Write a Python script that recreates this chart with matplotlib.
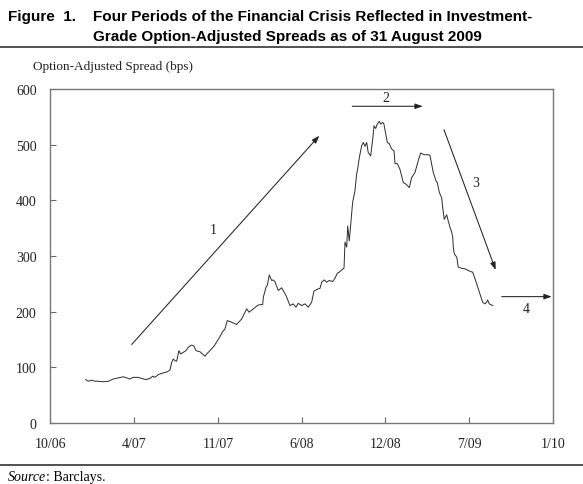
import matplotlib.pyplot as plt
from matplotlib.lines import Line2D

# months since Oct 2006 and option-adjusted spread (bps)
months = [2.73, 2.93, 3.20, 3.45, 3.71, 4.10, 4.49, 4.87, 5.26, 5.65, 5.91, 6.17,
          6.43, 6.81, 7.08, 7.39, 7.72, 7.93, 8.11, 8.37, 8.75, 9.06, 9.27, 9.41,
          9.53, 9.66, 9.79, 9.97, 10.10, 10.31, 10.52, 10.69, 10.96, 11.14, 11.29,
          11.60, 11.99, 12.12, 12.38, 12.69, 13.10, 13.36, 13.54, 13.72, 14.06,
          14.45, 14.84, 15.23, 15.41, 15.74, 16.13, 16.47, 16.52, 16.73, 16.83,
          16.98, 17.17, 17.29, 17.42, 17.68, 17.94, 18.28, 18.59, 18.84, 19.05,
          19.23, 19.50, 19.75, 20.01, 20.27, 20.45, 20.78, 20.92, 21.05, 21.25,
          21.44, 21.64, 21.90, 22.08, 22.26, 22.41, 22.60, 22.78, 22.86, 22.99,
          23.07, 23.19, 23.30, 23.45, 23.63, 23.76, 23.84, 23.97, 24.15, 24.28,
          24.41, 24.54, 24.66, 24.85, 25.01, 25.11, 25.24, 25.36, 25.52, 25.63,
          25.78, 25.88, 26.02, 26.14, 26.29, 26.48, 26.66, 26.74, 26.92, 27.12,
          27.38, 27.59, 27.85, 28.03, 28.29, 28.54, 28.73, 28.99, 29.32, 29.45,
          29.58, 29.71, 29.92, 30.02, 30.18, 30.36, 30.44, 30.56, 30.75, 30.87,
          31.01, 31.14, 31.22, 31.26, 31.34, 31.53, 31.65, 31.91, 32.17, 32.43,
          32.61, 32.77, 32.95, 33.12, 33.33, 33.54, 33.72, 33.85, 33.93, 34.06,
          34.32]
spread = [78, 75, 77, 75, 75, 74, 75, 79, 81, 83, 81, 79,
          82, 82, 80, 78, 80, 84, 82, 87, 90, 92, 95, 109,
          115, 112, 111, 130, 124, 127, 130, 136, 140, 138, 130,
          128, 120, 124, 130, 138, 153, 164, 169, 184, 181,
          177, 187, 205, 199, 205, 212, 213, 226, 244, 247,
          266, 256, 257, 254, 238, 243, 229, 211, 214, 208,
          215, 211, 214, 208, 217, 237, 241, 242, 253, 257,
          253, 256, 254, 260, 269, 271, 275, 278, 325, 316,
          354, 327, 357, 396, 417, 447, 456, 477, 498, 504,
          497, 504, 486, 480, 510, 534, 529, 537, 542, 537,
          540, 537, 519, 504, 502, 492, 489, 466, 466, 456,
          432, 429, 423, 441, 450, 471, 485, 482, 482, 481,
          465, 450, 435, 432, 414, 405, 387, 366, 374, 363,
          351, 343, 334, 316, 304, 298, 280, 278, 277, 274,
          272, 271, 259, 247, 232, 217, 214, 217, 221, 214,
          211]

tick_pos = [0, 6.5, 13, 19.5, 26, 32.5, 39]
tick_labels = ['10/06', '4/07', '11/07', '6/08', '12/08', '7/09', '1/10']
y_ticks = [0, 100, 200, 300, 400, 500, 600]

# period arrows: (tail, head, label position, label)
arrows = [((6.30, 141), (20.86, 516), (12.64, 348), '1'),
          ((23.42, 569), (28.89, 569), (26.01, 584), '2'),
          ((30.54, 527), (34.55, 275), (33.0, 432), '3'),
          ((35.02, 227), (38.9, 227), (36.9, 205), '4')]

serif = 'Liberation Serif'
sans = 'Liberation Sans'

fig = plt.figure(figsize=(5.83, 4.85), dpi=100)
ax = fig.add_axes([0.0866, 0.1258, 0.8619, 0.6886])

ax.plot(months, spread, color='#2a2a2a', lw=0.7)

for tail, head, lab_xy, lab in arrows:
    ax.annotate('', xy=head, xytext=tail,
                arrowprops=dict(arrowstyle='-|>,head_length=0.45,head_width=0.16',
                                color='#222222', lw=0.75, shrinkA=0, shrinkB=0))
    ax.text(lab_xy[0], lab_xy[1], lab, fontsize=10, family=serif,
            ha='center', va='center', color='#222222')

ax.set_xlim(0, 39)
ax.set_ylim(0, 600)
ax.set_xticks(tick_pos)
ax.set_xticklabels(tick_labels)
ax.set_yticks(y_ticks)
ax.tick_params(direction='in', length=4, width=0.8, color='#666666',
               labelsize=10, labelcolor='#222222')
ax.tick_params(axis='x', pad=10)
ax.tick_params(axis='y', pad=10)
for lab in ax.get_xticklabels() + ax.get_yticklabels():
    lab.set_family(serif)
for sp in ax.spines.values():
    sp.set_color('#777777')
    sp.set_linewidth(1.0)

# header and footer
fig.text(8 / 583, 1 - 17 / 485, 'Figure  1.', fontsize=11, fontweight='bold',
         family=sans, va='center')
fig.text(93 / 583, 1 - 17 / 485,
         'Four Periods of the Financial Crisis Reflected in Investment-',
         fontsize=11, fontweight='bold', family=sans, va='center')
fig.text(93 / 583, 1 - 37 / 485,
         'Grade Option-Adjusted Spreads as of 31 August 2009',
         fontsize=11, fontweight='bold', family=sans, va='center')
fig.add_artist(Line2D([0, 1], [1 - 48 / 485] * 2, color='#333333', lw=1.2))
fig.text(33 / 583, 1 - 67 / 485, 'Option-Adjusted Spread (bps)', fontsize=9.5,
         family=serif, va='center', color='#222222')
fig.add_artist(Line2D([0, 1], [1 - 466 / 485] * 2, color='#333333', lw=1.2))
src = fig.text(8 / 583, 1 - 481 / 485, 'Source', fontsize=10, family=serif,
               style='italic', va='baseline')
plt.annotate(': Barclays.', xy=(1, 0), xycoords=src, fontsize=10,
             family=serif, va='bottom', ha='left')

fig.savefig('out.png', dpi=100)
